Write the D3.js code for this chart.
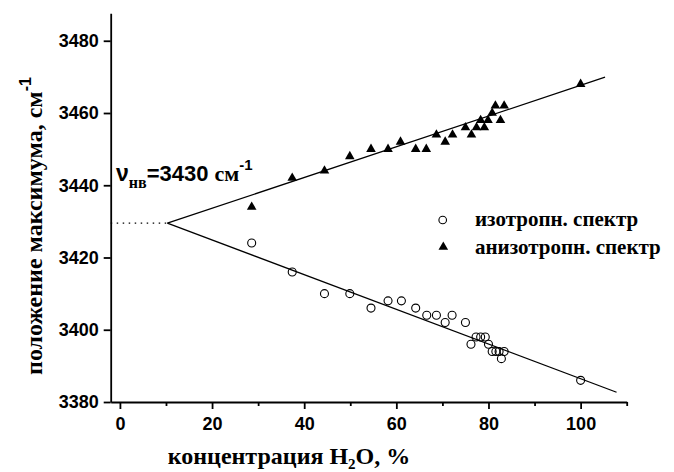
<!DOCTYPE html>
<html>
<head>
<meta charset="utf-8">
<script src="https://cdn.jsdelivr.net/npm/d3@7"></script>
<style>
  body { margin: 0; background: #fff; }
  svg { display: block; }
  .serif { font-family: "Liberation Serif", "Times New Roman", serif; font-weight: bold; }
  .sans { font-family: "Liberation Sans", Arial, sans-serif; font-weight: bold; }
</style>
</head>
<body>
<div id="chart"></div>
<script>
// peak position vs water concentration

// isotropic spectrum (open circles)
const isoConc = [28.6, 37.4, 44.4, 49.9, 54.5, 58.2, 61.1, 64.2, 66.6, 68.7, 70.6, 72.1, 75.0,
  76.2, 77.3, 78.3, 79.3, 80.0, 80.8, 81.6, 82.3, 83.4, 82.8, 100];
const isoPeak = [3424, 3416, 3410, 3410, 3406, 3408, 3408, 3406, 3404, 3404, 3402, 3404, 3402,
  3396, 3398, 3398, 3398, 3396, 3394, 3394, 3394, 3394, 3392, 3386];

// anisotropic spectrum (filled triangles)
const anisoConc = [28.6, 37.4, 44.4, 49.9, 54.5, 58.2, 60.9, 64.2, 66.5, 68.7, 70.6, 72.2, 75.0,
  76.3, 77.4, 78.3, 79.1, 79.9, 80.8, 81.5, 82.6, 83.4, 100];
const anisoPeak = [3434, 3442, 3444, 3448, 3450, 3450, 3452, 3450, 3450, 3454, 3452, 3454, 3456,
  3454, 3456, 3458, 3456, 3458, 3460, 3462, 3458, 3462, 3468];

// fitted lines and the crossing point
const fitUpper = [[10.3, 3429.5], [105.3, 3469.9]];
const fitLower = [[10.3, 3429.5], [107.8, 3382.7]];
const crossLine = [[-2, 3429.5], [10.3, 3429.5]];

const xMajor = [0, 20, 40, 60, 80, 100];
const xMinor = [10, 30, 50, 70, 90, 110];
const yMajor = [3380, 3400, 3420, 3440, 3460, 3480];

const legendLabels = ["изотропн. спектр", "анизотропн. спектр"];

const width = 674, height = 472;

const svg = d3.select("#chart").append("svg")
  .attr("width", width)
  .attr("height", height);

const x = d3.scaleLinear().domain([-2, 110]).range([110.7, 626.7]);
const y = d3.scaleLinear().domain([3380, 3487.6]).range([402, 13.3]);

// axes
const axisColor = "#000";

function styleAxis(g) {
  g.select(".domain").attr("stroke", axisColor).attr("stroke-width", 1.8);
  g.selectAll(".tick line").attr("stroke", axisColor).attr("stroke-width", 1.8);
}

const xg = svg.append("g")
  .attr("transform", `translate(0,${y(3380)})`)
  .call(d3.axisBottom(x).tickValues(xMajor).tickFormat(d3.format("d"))
    .tickSize(7).tickSizeOuter(0).tickPadding(8))
  .call(styleAxis);
xg.selectAll("text")
  .attr("class", "sans")
  .attr("font-size", "18px")
  .attr("fill", "#000");

svg.append("g")
  .attr("transform", `translate(0,${y(3380)})`)
  .call(d3.axisBottom(x).tickValues(xMinor).tickSize(4).tickFormat(""))
  .call(g => g.select(".domain").remove())
  .call(g => g.selectAll(".tick line").attr("stroke", axisColor).attr("stroke-width", 1.8));

const yg = svg.append("g")
  .attr("transform", `translate(${x(-2)},0)`)
  .call(d3.axisLeft(y).tickValues(yMajor).tickFormat(d3.format("d"))
    .tickSize(7).tickSizeOuter(0).tickPadding(5))
  .call(styleAxis);
yg.selectAll("text")
  .attr("class", "sans")
  .attr("font-size", "18px")
  .attr("fill", "#000");

// fit lines
const line = d3.line().x(d => x(d[0])).y(d => y(d[1]));

svg.append("path").datum(fitUpper)
  .attr("d", line).attr("fill", "none").attr("stroke", "#000").attr("stroke-width", 1.3);
svg.append("path").datum(fitLower)
  .attr("d", line).attr("fill", "none").attr("stroke", "#000").attr("stroke-width", 1.3);
svg.append("path").datum(crossLine)
  .attr("d", line).attr("fill", "none").attr("stroke", "#000")
  .attr("stroke-width", 1.3).attr("stroke-dasharray", "1.5,4.5");

// points
const tri = d3.symbol().type(d3.symbolTriangle).size(40);

svg.selectAll(".iso")
  .data(isoConc.map((c, i) => [c, isoPeak[i]]))
  .enter().append("circle")
  .attr("class", "iso")
  .attr("cx", d => x(d[0]))
  .attr("cy", d => y(d[1]))
  .attr("r", 4)
  .attr("fill", "none")
  .attr("stroke", "#000")
  .attr("stroke-width", 1.1);

svg.selectAll(".aniso")
  .data(anisoConc.map((c, i) => [c, anisoPeak[i]]))
  .enter().append("path")
  .attr("class", "aniso")
  .attr("d", tri)
  .attr("transform", d => `translate(${x(d[0])},${y(d[1])})`)
  .attr("fill", "#000");

// legend
const legend = svg.append("g");
legend.append("circle")
  .attr("cx", 442.7).attr("cy", 220).attr("r", 3.8)
  .attr("fill", "none").attr("stroke", "#000").attr("stroke-width", 1.1);
legend.append("path")
  .attr("d", tri)
  .attr("transform", "translate(443.3,247)")
  .attr("fill", "#000");
legend.selectAll(".leg-text")
  .data(legendLabels)
  .enter().append("text")
  .attr("class", "serif leg-text")
  .attr("x", 475)
  .attr("y", (d, i) => 226 + i * 27.5)
  .attr("font-size", "21px")
  .text(d => d);

// crossing value annotation
const ann = svg.append("text")
  .attr("x", 116)
  .attr("y", 181)
  .attr("font-size", "23px");
ann.append("tspan").attr("class", "sans").text("ν");
ann.append("tspan").attr("class", "serif").attr("font-size", "16px").attr("dy", 7).text("нв");
ann.append("tspan").attr("class", "sans").attr("font-size", "22px").attr("dy", -7).text("=3430 ");
ann.append("tspan").attr("class", "serif").attr("font-size", "22px").text("см");
ann.append("tspan").attr("class", "sans").attr("font-size", "15px").attr("dy", -11).text("-1");

// axis titles
const xt = svg.append("text")
  .attr("class", "serif")
  .attr("x", 289)
  .attr("y", 464)
  .attr("text-anchor", "middle")
  .attr("font-size", "24px");
xt.append("tspan").text("концентрация H");
xt.append("tspan").attr("font-size", "15px").attr("dy", 5).text("2");
xt.append("tspan").attr("dy", -5).text("O, %");

const yt = svg.append("text")
  .attr("class", "serif")
  .attr("transform", "translate(42,226) rotate(-90)")
  .attr("text-anchor", "middle")
  .attr("font-size", "24px");
yt.append("tspan").text("положение максимума, см");
yt.append("tspan").attr("class", "sans").attr("font-size", "16px").attr("dy", -11).text("-1");
</script>
</body>
</html>
